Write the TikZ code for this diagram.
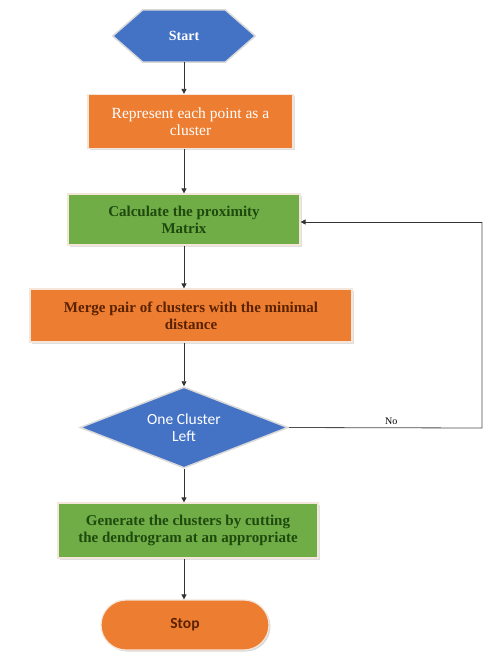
\documentclass[tikz,border=0pt]{standalone}
\usepackage{fontspec}
\setmainfont{Liberation Serif}
\newfontfamily\carl{Carlito}
\usetikzlibrary{shapes.misc,shapes.geometric,arrows.meta,shadows}
\definecolor{fblue}{HTML}{4472C4}
\definecolor{forange}{HTML}{ED7D31}
\definecolor{fgreen}{HTML}{70AD47}
\definecolor{tgreen}{HTML}{1E4A0E}
\definecolor{tbrown}{HTML}{5A2200}
\definecolor{edgec}{HTML}{F4E6DA}
\tikzset{
  x=1pt,y=1pt,
  every node/.style={inner sep=2pt, align=center},
  box/.style={rectangle, draw=edgec, line width=1.2pt, drop shadow={shadow xshift=1.5pt, shadow yshift=-1.5pt, opacity=0.25}},
  obox/.style={box, fill=forange},
  gbox/.style={box, fill=fgreen},
  arr/.style={draw=black!80, line width=0.8pt, -{Triangle[length=5pt,width=5pt]}},
  fline/.style={draw=black!70, line width=0.8pt},
  boxfont/.style={font=\fontsize{15}{17}\selectfont\bfseries},
}
\begin{document}
\begin{tikzpicture}
\useasboundingbox[fill=white] (0,0) rectangle (484,-659);
\node[minimum width=142pt, minimum height=52pt, inner sep=0pt] (start) at (184,-36) {};
\path[fill=fblue, draw=white!85!black, line width=1.5pt]
  ([xshift=30pt]start.north west) -- ([xshift=-30pt]start.north east) -- (start.east)
  -- ([xshift=-30pt]start.south east) -- ([xshift=30pt]start.south west) -- (start.west) -- cycle;
\node[text=white, font=\fontsize{14}{16}\selectfont\bfseries] (starttxt) at (start.center) {Start};
\node[obox, minimum width=205pt, minimum height=54pt, text=white,
  font=\fontsize{15.5}{17}\selectfont] (rep) at (190.5,-121.5) {Represent each point as a\\cluster};
\node[gbox, minimum width=232pt, minimum height=51pt, text=tgreen, boxfont] (calc) at (184,-219.5) {Calculate the proximity\\Matrix};
\node[obox, minimum width=322pt, minimum height=53pt, text=tbrown, boxfont] (merge) at (191,-315.5) {Merge pair of clusters with the minimal\\distance};
\node[diamond, aspect=2.57, fill=fblue, draw=white!85!black, line width=1.5pt,
  minimum width=208pt, minimum height=81pt, inner sep=0pt, text=white,
  font=\carl\fontsize{15.5}{17}\selectfont] (dec) at (184,-427.5) {One Cluster\\Left};
\node[gbox, minimum width=260pt, minimum height=55pt, text=tgreen, boxfont] (gen) at (188,-530.5) {Generate the clusters by cutting\\the dendrogram at an appropriate};
\node[rounded rectangle, fill=forange, draw=edgec, line width=1.2pt,
  drop shadow={shadow xshift=1.5pt, shadow yshift=-1.5pt, opacity=0.3},
  minimum width=172pt, minimum height=50pt, text=tbrown,
  font=\carl\bfseries\fontsize{15.5}{17}\selectfont] (stop) at (185,-625) {Stop};
\coordinate (r1) at (482,-428);
\coordinate (r2) at (482,-222);
\draw[arr] (start.south) -- (start.south |- rep.north);
\draw[arr] (start.south |- rep.south) -- (start.south |- calc.north);
\draw[arr] (start.south |- calc.south) -- (start.south |- merge.north);
\draw[arr] (start.south |- merge.south) -- (dec.north);
\draw[arr] (dec.south) -- (dec.south |- gen.north);
\draw[arr] (dec.south |- gen.south) -- (dec.south |- stop.north);
\draw[fline] (dec.east) -- node[above=1pt, pos=0.53, font=\fontsize{10}{11}\selectfont] (no) {No} (r1) -- (r2);
\draw[arr] (r2) -- (r2 -| calc.east);
\end{tikzpicture}
\end{document}
